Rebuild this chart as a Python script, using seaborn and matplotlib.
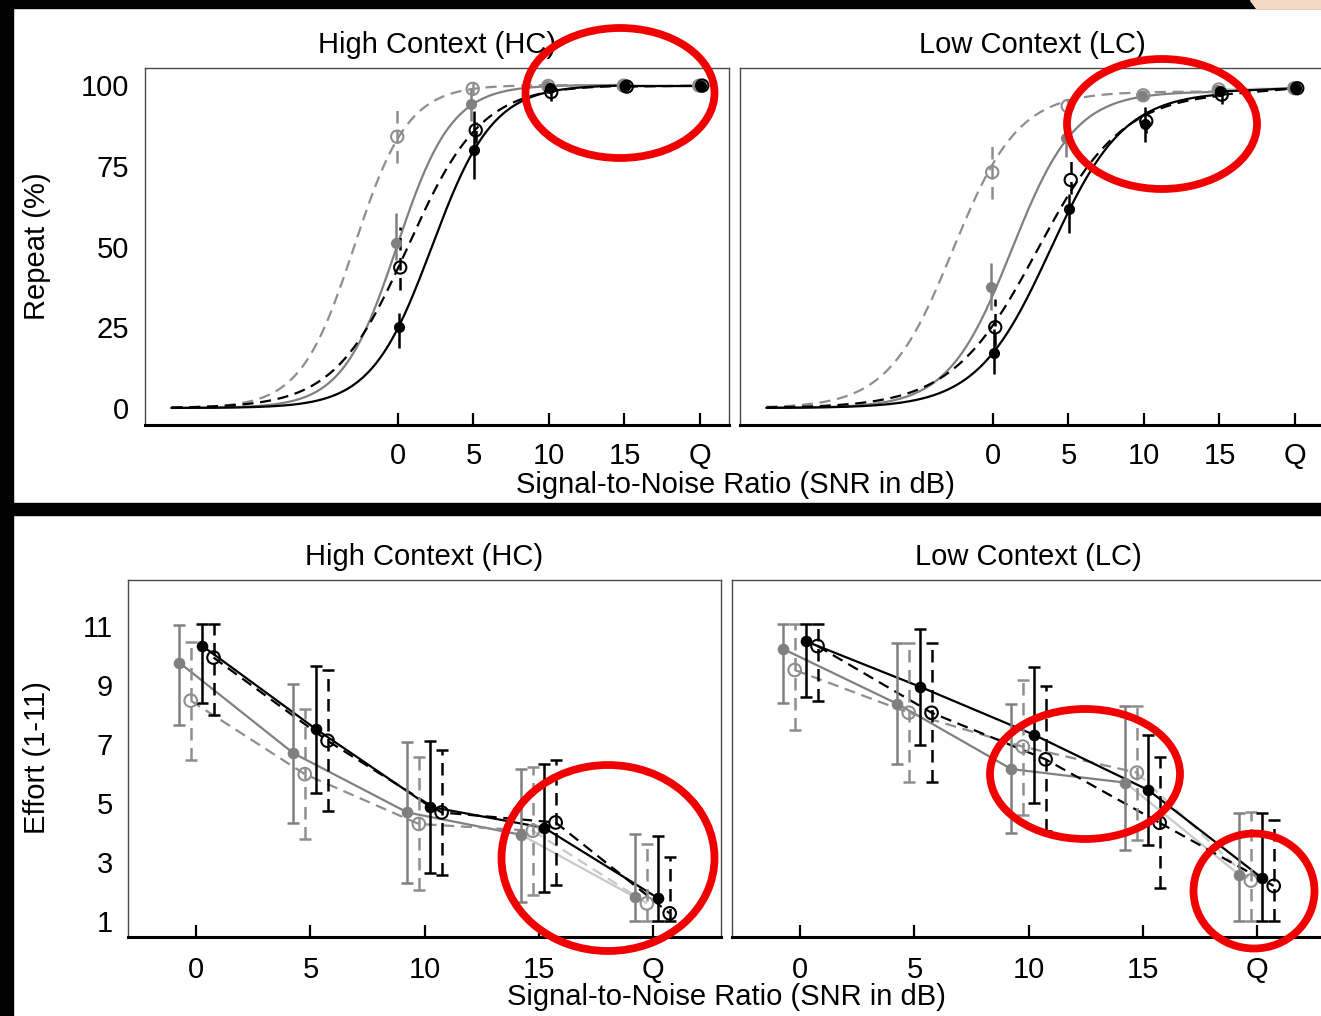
import numpy as np
import pandas as pd
import matplotlib
matplotlib.use("Agg")
import matplotlib.pyplot as plt
import seaborn as sns
from matplotlib.patches import Ellipse, Rectangle, Polygon

# ---------------- data ----------------
snr_ticks = [0, 5, 10, 15, 20]
snr_tick_labels = ["0", "5", "10", "15", "Q"]
snr_levels = [0, 5, 10, 15, 20]            # 20 = Q (quiet)
series_names = ["gray_filled", "gray_open", "black_filled", "black_open"]

# Repeat (%) - High Context
rep_hc_gray_filled = [51.0, 94.0, 99.6, 99.8, 99.8]
rep_hc_gray_open = [84.0, 98.8, 99.7, 99.8, 99.8]
rep_hc_black_filled = [25.0, 80.0, 99.0, 99.8, 99.8]
rep_hc_black_open = [43.5, 86.0, 97.8, 99.5, 99.8]
rep_hc_lo = [[45.8, 89.0, 99.0, 99.5, 99.5], [75.9, 97.0, 99.0, 99.5, 99.5],
             [18.6, 71.0, 97.5, 99.5, 99.5], [36.5, 82.0, 95.0, 99.0, 99.5]]
rep_hc_hi = [[60.4, 98.7, 100.0, 100.0, 100.0], [92.9, 100.5, 100.0, 100.0, 100.0],
             [29.4, 92.0, 100.0, 100.0, 100.0], [56.0, 88.5, 99.5, 100.0, 100.0]]
rep_hc_fit_mid = [-0.07, -2.9, 2.25, 0.66]
rep_hc_fit_slope = [0.55, 0.56, 0.494, 0.41]
rep_hc_fit_top = 100.0

# Repeat (%) - Low Context
rep_lc_gray_filled = [37.5, 83.5, 96.5, 98.5, 99.0]
rep_lc_gray_open = [73.0, 93.5, 96.8, 98.6, 99.0]
rep_lc_black_filled = [17.0, 61.5, 88.0, 98.0, 99.0]
rep_lc_black_open = [25.0, 70.6, 88.8, 97.0, 99.0]
rep_lc_lo = [[30.2, 77.6, 95.0, 97.5, 98.5], [64.6, 91.0, 95.0, 97.5, 98.5],
             [10.4, 54.2, 82.2, 96.5, 98.5], [19.3, 66.1, 85.0, 94.0, 98.5]]
rep_lc_hi = [[44.8, 88.5, 98.0, 99.5, 99.5], [81.2, 96.0, 98.5, 99.5, 99.5],
             [24.5, 66.1, 93.2, 99.5, 99.5], [33.8, 78.6, 92.0, 100.0, 99.5]]
rep_lc_fit_mid = [1.24, -2.65, 3.8, 2.95]
rep_lc_fit_slope = [0.473, 0.46, 0.41, 0.352]
rep_lc_fit_top = 98.0

fit_snr_start = -15
fit_snr_end = 15

# Effort (1-11) - High Context
eff_hc_gray_filled = [9.76, 6.69, 4.68, 3.92, 1.80]
eff_hc_gray_open = [8.47, 5.98, 4.29, 4.06, 1.60]
eff_hc_black_filled = [10.33, 7.50, 4.87, 4.16, 1.77]
eff_hc_black_open = [9.93, 7.11, 4.68, 4.34, 1.26]
eff_hc_lo = [[7.64, 4.33, 2.30, 1.65, 1.0], [6.46, 3.77, 2.05, 1.88, 1.0],
             [8.40, 5.33, 2.62, 1.97, 1.0], [7.98, 4.73, 2.56, 2.22, 1.0]]
eff_hc_hi = [[11.03, 9.03, 7.06, 6.15, 3.95], [10.45, 8.18, 6.55, 6.21, 3.60],
             [11.06, 9.65, 7.10, 6.32, 3.88], [11.06, 9.51, 6.80, 6.46, 3.18]]

# Effort (1-11) - Low Context
eff_lc_gray_filled = [10.22, 8.36, 6.15, 5.69, 2.56]
eff_lc_gray_open = [9.51, 8.06, 6.91, 6.03, 2.37]
eff_lc_black_filled = [10.48, 8.94, 7.31, 5.44, 2.45]
eff_lc_black_open = [10.32, 8.06, 6.48, 4.33, 2.19]
eff_lc_lo = [[8.38, 6.32, 3.97, 3.41, 1.0], [7.47, 5.72, 4.59, 3.75, 1.0],
             [8.60, 6.97, 5.01, 3.56, 1.0], [8.47, 5.72, 4.06, 2.11, 1.0]]
eff_lc_hi = [[11.06, 10.41, 8.35, 8.29, 4.65], [11.06, 10.43, 9.17, 8.29, 4.71],
             [11.06, 10.89, 9.60, 7.31, 4.65], [11.06, 10.43, 8.97, 6.55, 4.42]]

rep_yticks = [0, 25, 50, 75, 100]
eff_yticks = [1, 3, 5, 7, 9, 11]
titles = ["High Context (HC)", "Low Context (LC)"]
xlabel = "Signal-to-Noise Ratio (SNR in dB)"

# ---------------- styling ----------------
sns.set_theme(style="white")
plt.rcParams["font.family"] = ["Liberation Sans", "DejaVu Sans"]
FS = 21

DASH = (0, (5, 3))
styles = {
    "gray_filled": dict(color="#808080", ls="-", open=False),
    "gray_open": dict(color="#8e8e8e", ls=DASH, open=True),
    "black_filled": dict(color="#000000", ls="-", open=False),
    "black_open": dict(color="#000000", ls=DASH, open=True),
}
LIGHT = "#c8c8c8"
rep_dodge = [-0.15, -0.05, 0.05, 0.15]
eff_dodge = [-0.75, -0.25, 0.25, 0.75]

W, H = 1321, 1016
fig = plt.figure(figsize=(W / 100, H / 100), dpi=100, facecolor="white")

# screenshot background: black bands and a corner
fig.patches.append(Rectangle((0, 1 - 7.5 / H), 1, 7.5 / H, transform=fig.transFigure,
                             color="black", zorder=0))
fig.patches.append(Rectangle((0, 0), 13 / W, 1, transform=fig.transFigure,
                             color="black", zorder=0))
fig.patches.append(Rectangle((0, 1 - 514.5 / H), 1, 12 / H, transform=fig.transFigure,
                             color="black", zorder=0))
fig.patches.append(Polygon([(1250 / W, 1), (1321 / W, 1), (1321 / W, 1 - 7.5 / H),
                            (1256 / W, 1 - 7.5 / H)], closed=True,
                           transform=fig.transFigure, color="#f7d8c4", zorder=1))


def add_ax(l, t, r, b):
    return fig.add_axes([l / W, 1 - b / H, (r - l) / W, (b - t) / H])


def style_ax(ax, xlim, ylim, yticks, title, show_y, xpad, tpad, ypad):
    ax.set_xlim(*xlim)
    ax.set_ylim(*ylim)
    ax.set_xticks(snr_ticks)
    ax.set_xticklabels(snr_tick_labels)
    ax.set_yticks(yticks)
    ax.set_yticklabels([str(v) for v in yticks])
    ax.tick_params(axis="x", direction="in", length=8.5, width=1.6, pad=xpad,
                   labelsize=FS, color="black", labelcolor="black", bottom=True)
    ax.tick_params(axis="y", length=0, pad=ypad, labelsize=FS, labelcolor="black",
                   labelleft=show_y)
    for s in ["left", "top", "right"]:
        ax.spines[s].set_color("#4a4a4a")
        ax.spines[s].set_linewidth(1.0)
    ax.spines["bottom"].set_color("black")
    ax.spines["bottom"].set_linewidth(2.2)
    ax.set_title(title, fontsize=FS, pad=tpad, color="black")
    ax.set_xlabel("")
    ax.set_ylabel("")
    ax.grid(False)
    ax.set_facecolor("white")


def draw_markers(ax, xs, ys, st, s_filled, s_open):
    df = pd.DataFrame({"snr": xs, "val": ys})
    if st["open"]:
        sns.scatterplot(data=df, x="snr", y="val", ax=ax, marker="o", s=s_open,
                        color=st["color"], linewidth=1.5, zorder=6, legend=False)
        coll = ax.collections[-1]
        coll.set_facecolor("none")
        coll.set_edgecolor(st["color"])
    else:
        sns.scatterplot(data=df, x="snr", y="val", ax=ax, marker="o", s=s_filled,
                        color=st["color"], linewidth=0, zorder=6, legend=False)


def draw_repeat(ax, vals, lo, hi, mids, slopes, top):
    for i, name in enumerate(series_names):
        st = styles[name]
        xs = np.array(snr_levels, dtype=float) + rep_dodge[i]
        # fitted psychometric curve
        fx = np.linspace(fit_snr_start, fit_snr_end, 400)
        fy = top / (1 + np.exp(-slopes[i] * (fx - mids[i])))
        sns.lineplot(x=fx, y=fy, ax=ax, color=st["color"], linestyle=st["ls"],
                     linewidth=1.6, zorder=3, sort=False)
        # 15 dB -> Q connector
        seg_col = LIGHT if name.startswith("gray") else st["color"]
        sns.lineplot(x=xs[3:], y=vals[i][3:], ax=ax, color=seg_col, linestyle=st["ls"],
                     linewidth=1.6, zorder=3, sort=False)
        ax.vlines(xs, lo[i], hi[i], colors=st["color"], linestyles=[st["ls"]],
                  linewidth=1.8, zorder=4)
        draw_markers(ax, xs, vals[i], st, 64, 78)


def draw_effort(ax, vals, lo, hi):
    for i, name in enumerate(series_names):
        st = styles[name]
        xs = np.array(snr_levels, dtype=float) + eff_dodge[i]
        y = np.array(vals[i])
        sns.lineplot(x=xs[:4], y=y[:4], ax=ax, color=st["color"], linestyle=st["ls"],
                     linewidth=1.6, zorder=3, sort=False)
        seg_col = LIGHT if name.startswith("gray") else st["color"]
        sns.lineplot(x=xs[3:], y=y[3:], ax=ax, color=seg_col, linestyle=st["ls"],
                     linewidth=1.6, zorder=3, sort=False)
        eb = ax.errorbar(xs, y, yerr=[y - np.array(lo[i]), np.array(hi[i]) - y], fmt="none",
                         ecolor=st["color"], elinewidth=1.8, capsize=4.2, capthick=1.8,
                         zorder=4)
        eb.lines[2][0].set_linestyle(st["ls"])
        draw_markers(ax, xs, y, st, 70, 82)


# ---- top: repeat ----
rep_xlim = (-16.75, 21.92)
rep_ylim = (-5.26, 105.26)
ax1 = add_ax(145, 68, 729, 425)
ax2 = add_ax(740, 68, 1324, 425)
draw_repeat(ax1, [rep_hc_gray_filled, rep_hc_gray_open, rep_hc_black_filled, rep_hc_black_open],
            rep_hc_lo, rep_hc_hi, rep_hc_fit_mid, rep_hc_fit_slope, rep_hc_fit_top)
draw_repeat(ax2, [rep_lc_gray_filled, rep_lc_gray_open, rep_lc_black_filled, rep_lc_black_open],
            rep_lc_lo, rep_lc_hi, rep_lc_fit_mid, rep_lc_fit_slope, rep_lc_fit_top)
style_ax(ax1, rep_xlim, rep_ylim, rep_yticks, titles[0], True, 12, 10.5, 11.5)
style_ax(ax2, rep_xlim, rep_ylim, rep_yticks, titles[1], False, 12, 10.5, 11.5)

# ---- bottom: effort ----
eff_xlim = (-3.0, 23.0)
eff_ylim = (0.458, 12.56)
ax3 = add_ax(128, 580, 721, 937)
ax4 = add_ax(732, 580, 1325, 937)
draw_effort(ax3, [eff_hc_gray_filled, eff_hc_gray_open, eff_hc_black_filled, eff_hc_black_open],
            eff_hc_lo, eff_hc_hi)
draw_effort(ax4, [eff_lc_gray_filled, eff_lc_gray_open, eff_lc_black_filled, eff_lc_black_open],
            eff_lc_lo, eff_lc_hi)
style_ax(ax3, eff_xlim, eff_ylim, eff_yticks, titles[0], True, 13.5, 10.5, 11)
style_ax(ax4, eff_xlim, eff_ylim, eff_yticks, titles[1], False, 13.5, 10.5, 11)

# axis labels (shared per row)
fig.text(37 / W, 1 - 246 / H, "Repeat (%)", rotation=90, ha="center", va="center",
         fontsize=FS, color="black")
fig.text(37 / W, 1 - 758 / H, "Effort (1-11)", rotation=90, ha="center", va="center",
         fontsize=FS, color="black")
fig.text(735 / W, 1 - 485 / H, xlabel, ha="center", va="center", fontsize=FS, color="black")
fig.text(726 / W, 1 - 997 / H, xlabel, ha="center", va="center", fontsize=FS, color="black")

# red highlight ellipses (annotations, figure pixel centres / sizes)
highlight_centres = [(620, 93), (1162, 124), (608, 858), (1085, 774), (1254, 891)]
highlight_sizes = [(189, 130), (190, 130), (213, 186), (190, 130), (121, 115)]
for (cx, cy), (ew, eh) in zip(highlight_centres, highlight_sizes):
    fig.patches.append(Ellipse((cx / W, 1 - cy / H), ew / W, eh / H, transform=fig.transFigure,
                               fill=False, edgecolor="#f00000", linewidth=5.6, zorder=20))

fig.savefig("out.png", dpi=100, facecolor=fig.get_facecolor())
